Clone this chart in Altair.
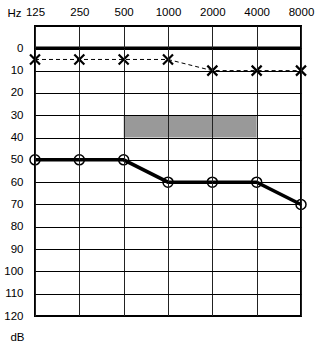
import altair as alt
import pandas as pd

freqs = [125, 250, 500, 1000, 2000, 4000, 8000]
circle_db = [50, 50, 50, 60, 60, 60, 70]
cross_db = [5, 5, 5, 5, 10, 10, 10]
db_ticks = list(range(0, 130, 10))
box_freq = [500, 4000]
box_db = [30, 40]
zero_db = 0

df = pd.DataFrame({"f": freqs, "o": circle_db, "xx": cross_db})
box = pd.DataFrame({"f1": [box_freq[0]], "f2": [box_freq[1]], "d1": [box_db[0]], "d2": [box_db[1]]})
zero = pd.DataFrame({"f1": [freqs[0]], "f2": [freqs[-1]], "d": [zero_db]})

FONT = "Liberation Sans"
xs = alt.Scale(type="log", base=2, domain=[125, 8000], nice=False)
ys = alt.Scale(domain=[-10, 120], reverse=True, nice=False, zero=False)

xaxis = alt.Axis(orient="top", values=freqs, format="d", grid=True, gridColor="#222222",
                 gridWidth=1, ticks=False, tickSize=0, domain=False, labelFont=FONT,
                 labelFontSize=11.5, labelColor="black", labelPadding=9, labelFlush=False,
                 labelOverlap=False,
                 title="Hz", titleX=-21, titleY=-13, titleAlign="center",
                 titleBaseline="middle", titleFontWeight="normal", titleFont=FONT,
                 titleFontSize=11.5, titleColor="black", zindex=1)
yaxis = alt.Axis(values=db_ticks, grid=True, gridColor="black", gridWidth=1, ticks=False,
                 tickSize=0, domain=False, labelFont=FONT, labelFontSize=11.5,
                 labelColor="black", labelPadding=12, labelFlush=False, labelOverlap=False,
                 title="dB", titleAngle=0, titleX=-18, titleY=311, titleAlign="center",
                 titleBaseline="middle", titleFontWeight="normal", titleFont=FONT,
                 titleFontSize=11.5, titleColor="black", zindex=1)

rect = alt.Chart(box).mark_rect(color="#999999").encode(
    x=alt.X("f1:Q", scale=xs, axis=xaxis), x2="f2:Q",
    y=alt.Y("d1:Q", scale=ys, axis=yaxis), y2="d2:Q")

zline = alt.Chart(zero).mark_rule(color="black", strokeWidth=3.5).encode(
    x=alt.X("f1:Q", scale=xs, axis=xaxis), x2="f2:Q",
    y=alt.Y("d:Q", scale=ys, axis=yaxis))

dash = alt.Chart(df).mark_line(color="black", strokeWidth=1, strokeDash=[4, 3]).encode(
    x=alt.X("f:Q", scale=xs, axis=xaxis), y=alt.Y("xx:Q", scale=ys, axis=yaxis))

crosses = alt.Chart(df).mark_point(shape="M-1,-1L1,1M-1,1L1,-1", size=100, filled=False,
                                   stroke="black", strokeWidth=2.2, opacity=1).encode(
    x=alt.X("f:Q", scale=xs, axis=xaxis), y=alt.Y("xx:Q", scale=ys, axis=yaxis))

oline = alt.Chart(df).mark_line(color="black", strokeWidth=3.5).encode(
    x=alt.X("f:Q", scale=xs, axis=xaxis), y=alt.Y("o:Q", scale=ys, axis=yaxis))

circles = alt.Chart(df).mark_point(shape="circle", size=100, filled=False, stroke="black",
                                   strokeWidth=1.5, opacity=1).encode(
    x=alt.X("f:Q", scale=xs, axis=xaxis), y=alt.Y("o:Q", scale=ys, axis=yaxis))

chart = alt.layer(rect, zline, dash, crosses, oline, circles).properties(
    width=266, height=290,
    autosize=alt.AutoSizeParams(type="none"),
    padding={"left": 35, "top": 26, "right": 23, "bottom": 37},
    background="white",
).configure_view(stroke="black", strokeWidth=2)

chart.save("out.html", embed_options={"renderer": "svg", "actions": False})
